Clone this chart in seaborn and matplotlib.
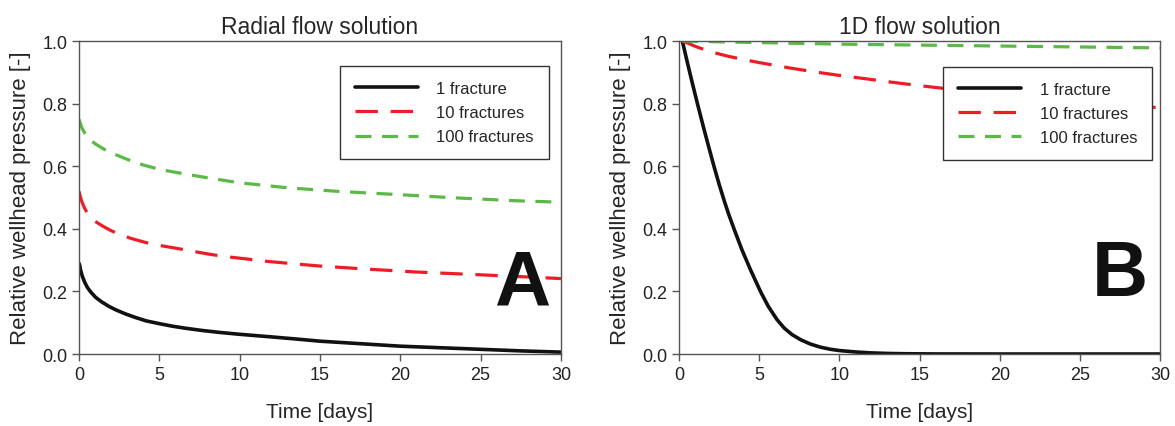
import matplotlib
matplotlib.use("Agg")
import matplotlib.pyplot as plt
import seaborn as sns
from matplotlib.ticker import FormatStrFormatter

# radial flow (panel A)
t_rad_1 = [0, 0.04, 0.1, 0.2, 0.35, 0.52, 0.75, 1.04, 1.4, 1.87, 2.3, 2.9, 3.5, 4.17, 5, 5.8, 6.67, 7.7, 8.75, 10, 11.9, 13.5, 15, 17.5, 20, 22.5, 25, 27.5, 30]
p_rad_1 = [0.29, 0.285, 0.268, 0.25, 0.23, 0.213, 0.197, 0.181, 0.167, 0.152, 0.141, 0.128, 0.117, 0.106, 0.097, 0.089, 0.082, 0.075, 0.069, 0.063, 0.055, 0.048, 0.041, 0.033, 0.025, 0.02, 0.015, 0.01, 0.006]
t_rad_10 = [0, 0.1, 0.2, 0.35, 0.5, 0.75, 1, 1.5, 2, 2.5, 3.2, 4.17, 5, 6.04, 7, 8.1, 9, 10.2, 11.7, 13, 15, 18, 21, 25, 28, 30]
p_rad_10 = [0.52, 0.5, 0.484, 0.466, 0.452, 0.436, 0.424, 0.408, 0.394, 0.383, 0.37, 0.356, 0.347, 0.338, 0.329, 0.319, 0.312, 0.305, 0.296, 0.29, 0.281, 0.271, 0.262, 0.253, 0.246, 0.241]
t_rad_100 = [0, 0.1, 0.2, 0.4, 0.6, 0.8, 1, 1.5, 2, 3, 4, 5, 6.5, 8, 10, 13, 16, 20, 23, 27, 30]
p_rad_100 = [0.75, 0.735, 0.72, 0.703, 0.69, 0.68, 0.672, 0.656, 0.643, 0.622, 0.604, 0.59, 0.576, 0.563, 0.547, 0.531, 0.52, 0.509, 0.5, 0.49, 0.485]

# 1D flow (panel B)
t_lin_1 = [0.2, 0.5, 0.8, 1.14, 1.5, 1.8, 2.17, 2.5, 2.84, 3.1, 3.42, 3.9, 4.45, 5.07, 5.55, 6.1, 6.55, 7.04, 7.6, 8.18, 8.8, 9.4, 10, 11, 12, 13, 14, 16, 20, 25, 30]
p_lin_1 = [1.0, 0.934, 0.87, 0.8, 0.728, 0.67, 0.6, 0.541, 0.485, 0.445, 0.4, 0.335, 0.269, 0.2, 0.153, 0.11, 0.083, 0.062, 0.045, 0.032, 0.022, 0.0154, 0.011, 0.0065, 0.0035, 0.0018, 0.0009, 0.0002, 0.0, 0.0, 0.0]
t_lin_10 = [0.2, 0.6, 1, 1.5, 2, 3, 4, 5, 6, 7, 8.5, 10, 11.7, 13, 15.4, 18, 20, 23, 25, 28, 30]
p_lin_10 = [1.0, 0.992, 0.983, 0.974, 0.965, 0.952, 0.941, 0.931, 0.922, 0.913, 0.901, 0.89, 0.879, 0.87, 0.855, 0.84, 0.829, 0.814, 0.805, 0.793, 0.787]
t_lin_100 = [0.2, 2, 5, 10, 15, 20, 25, 30]
p_lin_100 = [1.0, 0.998, 0.995, 0.99, 0.987, 0.984, 0.981, 0.978]

labels = ["1 fracture", "10 fractures", "100 fractures"]
colors = ["#111111", "#ee1c25", "#5cb947"]
dashes = [None, (7, 4), (5, 3.3)]
widths = [2.6, 2.3, 2.3]

sns.set_style("ticks")
plt.rcParams["font.family"] = ["Liberation Sans", "DejaVu Sans"]

fig = plt.figure(figsize=(11.75, 4.27), dpi=100)
ax1 = fig.add_axes([0.0672, 0.1686, 0.4102, 0.733])
ax2 = fig.add_axes([0.578, 0.1686, 0.4094, 0.733])

panels = [
    (ax1, [(t_rad_1, p_rad_1), (t_rad_10, p_rad_10), (t_rad_100, p_rad_100)],
     "Radial flow solution", "A", (0.977, 0.157), (0.975, 0.92)),
    (ax2, [(t_lin_1, p_lin_1), (t_lin_10, p_lin_10), (t_lin_100, p_lin_100)],
     "1D flow solution", "B", (0.975, 0.19), (0.983, 0.917)),
]

for ax, series, title, letter, lpos, legpos in panels:
    for (t, p), lab, c, d, w in zip(series, labels, colors, dashes, widths):
        sns.lineplot(x=t, y=p, ax=ax, color=c, linewidth=w, label=lab)
        if d is not None:
            ax.lines[-1].set_dashes(d)
    ax.set_xlim(0, 30)
    ax.set_ylim(0, 1)
    ax.set_xticks(range(0, 31, 5))
    ax.set_yticks([0, 0.2, 0.4, 0.6, 0.8, 1.0])
    ax.yaxis.set_major_formatter(FormatStrFormatter("%.1f"))
    ax.tick_params(direction="out", length=5, width=1, color="#555555",
                   labelsize=13, labelcolor="#222222")
    for s in ax.spines.values():
        s.set_color("#555555")
        s.set_linewidth(1)
        s.set_visible(True)
    ax.set_title(title, fontsize=16.5, pad=6)
    ax.set_xlabel("Time [days]", fontsize=15, labelpad=14)
    ax.set_ylabel("Relative wellhead pressure [-]", fontsize=16, labelpad=8)
    leg = ax.legend(loc="upper right", bbox_to_anchor=legpos, borderaxespad=0,
                    fontsize=12, handlelength=3.8, handletextpad=1.1,
                    fancybox=False, framealpha=1, edgecolor="#333333",
                    borderpad=0.9, labelspacing=0.55)
    leg.get_frame().set_linewidth(1)
    ax.text(lpos[0], lpos[1], letter, transform=ax.transAxes, ha="right",
            va="baseline", fontsize=56, fontweight="bold", color="#111111")

fig.savefig("out.png", dpi=100)
